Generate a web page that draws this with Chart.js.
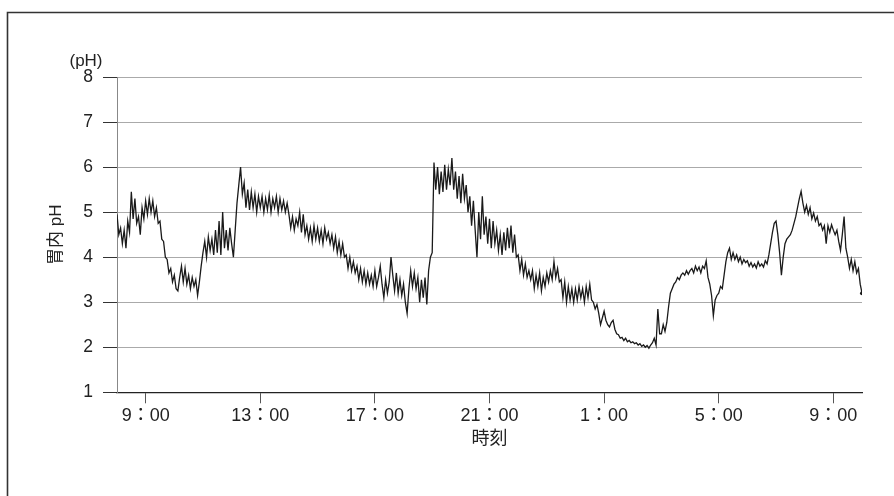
<!DOCTYPE html>
<html>
<head>
<meta charset="utf-8">
<script src="https://cdn.jsdelivr.net/npm/chart.js@4.4.1/dist/chart.umd.min.js"></script>
<style>
    body { margin: 0; background: #fff; }
    #wrap { width: 894px; height: 496px; position: relative; }
</style>
</head>
<body>
<div id="wrap"><canvas id="phChart" width="894" height="496"></canvas></div>
<script>
// Recording starts at 8:00, one value every 3.75 minutes
const startHour = 8;
const stepHours = 0.0625;

// Gastric pH, one row per hour (16 samples each)
const phValues = [
    4.95, 4.5, 4.65, 4.3, 4.6, 4.2, 4.8, 4.55, 5.45, 4.85, 5.3, 4.75, 4.9, 4.5, 5.1, 4.85,      // 8
    5.25, 4.95, 5.3, 5.0, 5.25, 4.9, 5.1, 4.75, 4.8, 4.4, 4.35, 4.0, 3.95, 3.65, 3.75, 3.45,    // 9
    3.6, 3.3, 3.25, 3.55, 3.8, 3.45, 3.75, 3.4, 3.6, 3.3, 3.55, 3.35, 3.5, 3.15, 3.45, 3.8,     // 10
    4.1, 4.35, 4.0, 4.45, 4.15, 4.4, 4.05, 4.6, 4.1, 4.8, 4.05, 5.0, 4.2, 4.6, 4.15, 4.65,      // 11
    4.3, 4.0, 4.6, 5.2, 5.6, 6.0, 5.4, 5.65, 5.1, 5.5, 5.05, 5.45, 5.1, 5.4, 5.0, 5.35,         // 12
    5.1, 5.35, 5.0, 5.3, 5.05, 5.38, 5.0, 5.3, 5.1, 5.35, 5.0, 5.3, 5.05, 5.25, 5.0, 5.2,       // 13
    4.95, 4.65, 4.9, 4.6, 4.85, 4.7, 5.0, 4.55, 4.95, 4.5, 4.7, 4.4, 4.65, 4.35, 4.7, 4.4,      // 14
    4.65, 4.35, 4.6, 4.3, 4.65, 4.4, 4.55, 4.3, 4.5, 4.2, 4.45, 4.1, 4.35, 4.05, 4.3, 4.0,      // 15
    4.05, 3.75, 4.0, 3.7, 3.9, 3.65, 3.8, 3.5, 3.75, 3.45, 3.7, 3.4, 3.65, 3.4, 3.6, 3.35,      // 16
    3.7, 3.35, 3.55, 3.8, 3.4, 3.1, 3.5, 3.2, 3.45, 4.0, 3.6, 3.25, 3.65, 3.2, 3.5, 3.15,       // 17
    3.4, 3.0, 2.75, 3.3, 3.7, 3.35, 3.65, 3.3, 3.55, 3.0, 3.5, 3.1, 3.55, 2.95, 3.7, 4.0,       // 18
    4.1, 6.1, 5.5, 6.0, 5.4, 5.9, 5.45, 6.05, 5.5, 5.95, 5.6, 6.2, 5.5, 5.9, 5.3, 5.8,          // 19
    5.2, 5.85, 5.3, 5.6, 5.0, 5.35, 4.7, 5.25, 4.6, 4.0, 5.0, 4.4, 5.35, 4.5, 4.9, 4.3,         // 20
    4.85, 4.2, 4.8, 4.3, 4.6, 4.15, 4.5, 4.05, 4.55, 4.15, 4.65, 4.2, 4.7, 4.1, 4.5, 4.0,       // 21
    4.05, 3.7, 3.95, 3.6, 3.85, 3.55, 3.7, 3.5, 3.7, 3.3, 3.6, 3.35, 3.65, 3.25, 3.55, 3.35,    // 22
    3.65, 3.45, 3.7, 3.5, 3.9, 3.55, 3.75, 3.45, 3.5, 3.1, 3.45, 3.0, 3.35, 3.05, 3.3, 3.0,     // 23
    3.3, 3.05, 3.35, 3.1, 3.3, 3.0, 3.35, 3.1, 3.4, 3.05, 3.0, 2.85, 2.95, 2.75, 2.5, 2.65,     // 0
    2.8, 2.6, 2.5, 2.45, 2.55, 2.6, 2.4, 2.3, 2.28, 2.2, 2.22, 2.15, 2.2, 2.12, 2.15, 2.1,      // 1
    2.12, 2.08, 2.1, 2.05, 2.08, 2.02, 2.05, 2.0, 2.04, 1.98, 2.05, 2.1, 2.2, 2.05, 2.85, 2.3,  // 2
    2.3, 2.5, 2.35, 2.55, 2.9, 3.2, 3.3, 3.4, 3.45, 3.55, 3.5, 3.6, 3.65, 3.6, 3.7, 3.62,       // 3
    3.7, 3.75, 3.65, 3.8, 3.7, 3.78, 3.65, 3.8, 3.75, 3.92, 3.55, 3.4, 3.15, 2.7, 3.05, 3.15,   // 4
    3.2, 3.35, 3.3, 3.6, 3.9, 4.1, 4.2, 3.95, 4.1, 3.95, 4.05, 3.9, 4.0, 3.85, 3.95, 3.88,      // 5
    3.92, 3.8, 3.88, 3.78, 3.85, 3.76, 3.9, 3.8, 3.85, 3.78, 3.92, 3.85, 4.05, 4.3, 4.55, 4.75, // 6
    4.8, 4.5, 4.1, 3.6, 4.0, 4.3, 4.4, 4.45, 4.5, 4.6, 4.75, 4.9, 5.1, 5.3, 5.46, 5.2,          // 7
    5.0, 5.15, 4.95, 5.1, 4.85, 4.98, 4.8, 4.9, 4.7, 4.75, 4.6, 4.7, 4.3, 4.7, 4.55, 4.72,      // 8
    4.6, 4.5, 4.6, 4.35, 4.15, 4.5, 4.9, 4.2, 4.0, 3.75, 3.95, 3.7, 3.9, 3.65, 3.75, 3.4,       // 9
    3.2
];

const tickHours = [9, 13, 17, 21, 25, 29, 33];
const tickLabels = ["9：00", "13：00", "17：00", "21：00", "1：00", "5：00", "9：00"];
const yTicks = [1, 2, 3, 4, 5, 6, 7, 8];

const fontFamily = '"Liberation Sans", Arial, "Noto Sans CJK JP", sans-serif';
const textColor = "#222";

const points = phValues.map((v, i) => ({ x: startHour + i * stepHours, y: v }));

// outer frame (top and left edges) and the "(pH)" unit label
const framePlugin = {
    id: "frame",
    afterDraw(chart) {
        const ctx = chart.ctx;
        ctx.save();
        ctx.strokeStyle = "#333";
        ctx.lineWidth = 1.6;
        ctx.beginPath();
        ctx.moveTo(7.5, 496);
        ctx.lineTo(7.5, 12.5);
        ctx.lineTo(894, 12.5);
        ctx.stroke();

        ctx.fillStyle = textColor;
        ctx.font = "17px " + fontFamily;
        ctx.textAlign = "center";
        ctx.textBaseline = "middle";
        ctx.fillText("(pH)", 86, 61);
        ctx.restore();
    }
};

new Chart(document.getElementById("phChart"), {
    type: "line",
    data: {
        datasets: [{
            data: points,
            borderColor: "#1a1a1a",
            borderWidth: 1.3,
            pointRadius: ctx => ctx.dataIndex === phValues.length - 1 ? 2 : 0,
            pointBackgroundColor: "#1a1a1a",
            pointBorderWidth: 0,
            tension: 0
        }]
    },
    options: {
        responsive: false,
        animation: false,
        devicePixelRatio: 1,
        layout: { padding: { top: 77, right: 32, bottom: 46, left: 46 } },
        plugins: {
            legend: { display: false },
            tooltip: { enabled: false }
        },
        scales: {
            x: {
                type: "linear",
                min: 8,
                max: 34,
                afterBuildTicks: scale => { scale.ticks = tickHours.map(v => ({ value: v })); },
                afterFit: scale => { scale.height = 57.7; },
                ticks: {
                    autoSkip: false,
                    maxRotation: 0,
                    padding: 2,
                    color: textColor,
                    font: { family: fontFamily, size: 18 },
                    callback: v => tickLabels[tickHours.indexOf(v)]
                },
                grid: {
                    drawOnChartArea: false,
                    drawTicks: true,
                    tickLength: 11,
                    tickColor: "#555"
                },
                border: { color: "#222", width: 1.2 },
                title: {
                    display: true,
                    text: "時刻",
                    color: textColor,
                    font: { family: fontFamily, size: 18 },
                    padding: 0
                }
            },
            y: {
                min: 1,
                max: 8,
                afterBuildTicks: scale => { scale.ticks = yTicks.map(v => ({ value: v })); },
                afterFit: scale => { scale.width = 71; },
                ticks: {
                    padding: 10,
                    color: textColor,
                    font: { family: fontFamily, size: 17.5 }
                },
                grid: {
                    color: "#aaa",
                    lineWidth: 1,
                    tickLength: 14,
                    tickColor: "#333"
                },
                border: { color: "#888", width: 1 },
                title: {
                    display: true,
                    text: "胃内 pH",
                    color: textColor,
                    font: { family: fontFamily, size: 17 },
                    padding: 0
                }
            }
        }
    },
    plugins: [framePlugin]
});
</script>
</body>
</html>
